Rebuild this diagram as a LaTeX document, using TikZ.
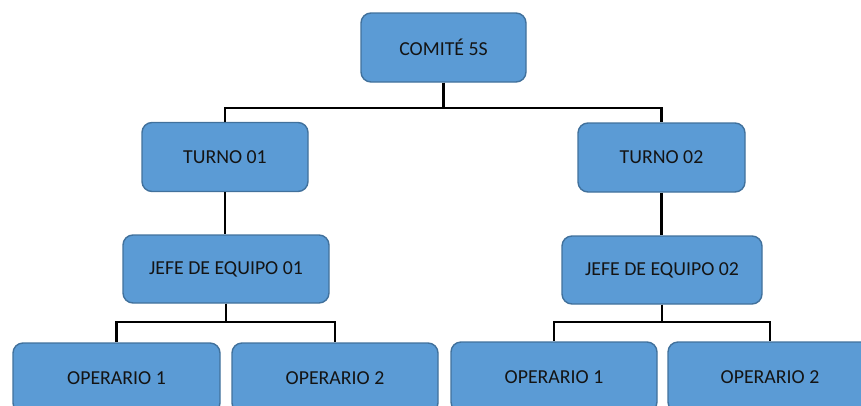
\documentclass[tikz,border=0pt]{standalone}
\usepackage{fontspec}
\setmainfont{Carlito}
\definecolor{boxfill}{HTML}{5B9BD5}
\definecolor{boxline}{HTML}{41719C}
\definecolor{ink}{HTML}{141414}
\begin{document}
\begin{tikzpicture}[x=1pt,y=-1pt,
  orgbox/.style={draw=boxline, fill=boxfill, line width=1.4pt, rounded corners=10pt,
    minimum height=69pt, inner sep=0pt, text=ink,
    font=\fontsize{19.8}{24}\selectfont},
  link/.style={draw=black, line width=2.2pt}]
\useasboundingbox (0,0) rectangle (861,405);
\clip (0,0) rectangle (861,405);

% top level
\node[orgbox, minimum width=165pt] (comite) at (443.5,47.5) {COMITÉ 5S};

% shifts
\node[orgbox, minimum width=166pt] (t1) at (225,157) {TURNO 01};
\node[orgbox, minimum width=167pt] (t2) at (661.5,157.5) {TURNO 02};

% team leaders
\node[orgbox, minimum width=206pt, minimum height=68pt] (j1) at (226,269) {JEFE DE EQUIPO 01};
\node[orgbox, minimum width=200pt, minimum height=68pt] (j2) at (662,270) {JEFE DE EQUIPO 02};

% operators
\node[orgbox, minimum width=207pt, minimum height=70pt] (o11) at (116.5,378) {OPERARIO 1};
\node[orgbox, minimum width=206pt, minimum height=70pt] (o12) at (335,378) {OPERARIO 2};
\node[orgbox, minimum width=206pt, minimum height=70pt] (o21) at (554,377) {OPERARIO 1};
\node[orgbox, minimum width=204pt, minimum height=70pt] (o22) at (770,377) {OPERARIO 2};

% connectors
\draw[link] (comite.south) -- ++(0,25) -| (t1.north);
\draw[link] (comite.south) -- ++(0,25) -| (t2.north);
\draw[link] (t1.south) -- (t1.south |- j1.north);
\draw[link] (t2.south) -- (t2.south |- j2.north);
\draw[link] (j1.south) -- ++(0,18) -| (o11.north);
\draw[link] (j1.south) -- ++(0,18) -| (o12.north);
\draw[link] (j2.south) -- ++(0,17) -| (o21.north);
\draw[link] (j2.south) -- ++(0,17) -| (o22.north);
\end{tikzpicture}
\end{document}
